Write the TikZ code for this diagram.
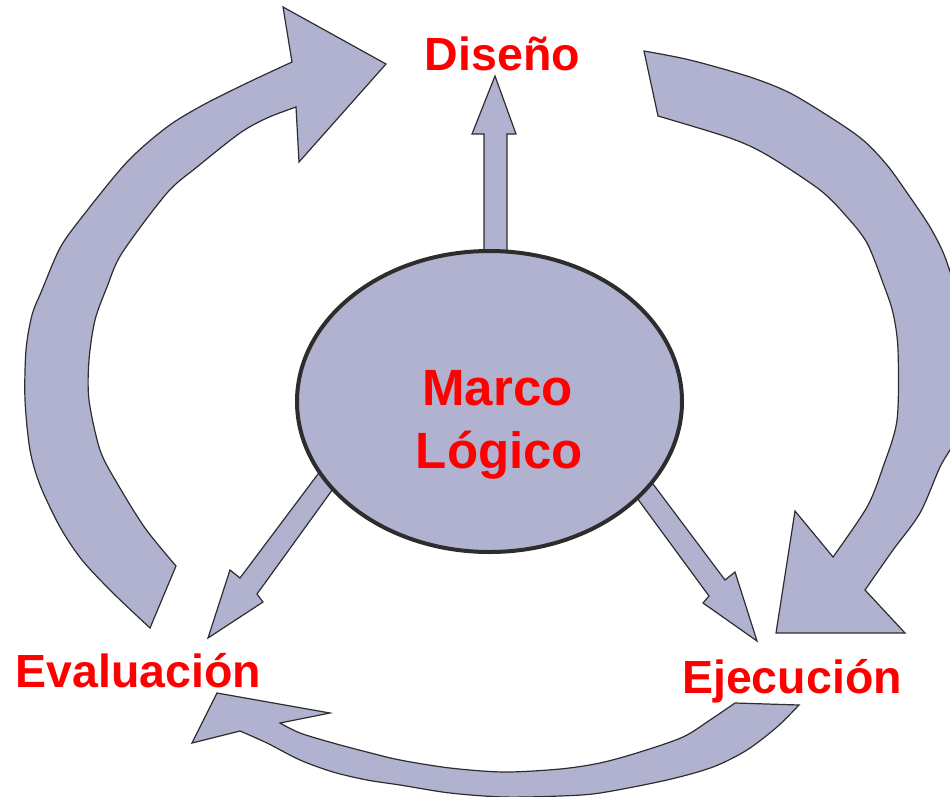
\documentclass[tikz,border=0pt]{standalone}
\usepackage{fontspec}
\setmainfont{Liberation Sans}
\usetikzlibrary{shapes.geometric}
\definecolor{lav}{RGB}{176,178,208}
\definecolor{edgegray}{RGB}{45,45,45}
\definecolor{lblred}{RGB}{255,0,0}
\tikzset{
  blockarrow/.style={fill=lav, draw=edgegray, line width=1.2pt, line join=miter},
  lbl/.style={text=lblred, font=\fontsize{46.5}{55}\selectfont\bfseries, anchor=base, inner sep=0pt},
  centrelbl/.style={text=lblred, font=\fontsize{51}{60}\selectfont\bfseries, anchor=base, inner sep=0pt},
  hub/.style={ellipse, fill=lav, draw=edgegray, line width=4pt, minimum width=385pt, minimum height=301pt, inner sep=0pt}
}
\begin{document}
\begin{tikzpicture}[x=1pt, y=-1pt]
\useasboundingbox (0,0) rectangle (950,796);
\clip (0,0) rectangle (950,796);
% curved arrow: Evaluacion -> Diseno
\draw[blockarrow] plot[smooth,tension=0.5] coordinates {(150,628) (113,593) (82,560) (60,527) (40,485) (30,450) (25,400) (26,350) (32,315) (42,290) (60,248) (82,217) (127,162) (167,127) (203,105) (247,83) (292,62)}
  -- (283,7) -- (386,64) -- (299,162)
  -- plot[smooth,tension=0.5] coordinates {(296,107) (267,118) (240,133) (197,167) (167,193) (122,253) (107,287) (95,320) (89,360) (89,400) (100,450) (117,483) (145,528) (176,566)} -- cycle;
% curved arrow: Diseno -> Ejecucion
\draw[blockarrow] plot[smooth,tension=0.5] coordinates {(644,51) (690,60) (750,77) (790,93) (833,119) (863,140) (887,165) (910,197) (930,227) (945,257) (958,300) (966,350) (965,400) (955,440) (940,467) (920,513) (893,550) (865,590)}
  -- (905,633) -- (776,633) -- (795,511)
  -- plot[smooth,tension=0.5] coordinates {(833,557) (867,507) (883,467) (897,420) (898,350) (893,313) (883,283) (867,243) (847,217) (820,190) (767,155) (730,138) (658,116)} -- cycle;
% curved arrow: Ejecucion -> Evaluacion
\draw[blockarrow] (735,703) -- plot[smooth,tension=0.5] coordinates {(799,705) (777,727) (747,750) (713,767) (667,780) (600,793) (560,796) (504,797) (450,793) (400,785) (367,780) (333,772) (300,760) (267,743) (240,731)}
  -- (192,743) -- (217,693) -- (330,713)
  -- plot[smooth,tension=0.5] coordinates {(280,723) (300,733) (333,743) (367,752) (400,760) (450,768) (504,772) (560,769) (600,763) (640,752) (683,737) (710,720) (735,703)} -- cycle;
% straight arrows from the hub
\draw[blockarrow] (484,256) -- (484,134) -- (472,134) -- (495,76) -- (516,134) -- (507,134) -- (507,256) -- cycle;
\draw[blockarrow] (323.4,466.8) -- (240,578) -- (230,570) -- (208,638) -- (263,602) -- (257,594) -- (338.2,481.7) -- cycle;
\draw[blockarrow] (641.6,468.8) -- (725,580) -- (735,572) -- (757,641) -- (703,603) -- (709,596) -- (626.6,483.8) -- cycle;
% hub
\node[hub] (ml) at (489.5,401.5) {};
\node[centrelbl] (marco) at (497.5,405) {Marco};
\node[centrelbl] (logico) at (499.5,468) {Lógico};
% labels
\node[lbl] (diseno) at (502.5,70) {Diseño};
\node[lbl] (evaluacion) at (138.5,687) {Evaluación};
\node[lbl] (ejecucion) at (792,693) {Ejecución};
\end{tikzpicture}
\end{document}
